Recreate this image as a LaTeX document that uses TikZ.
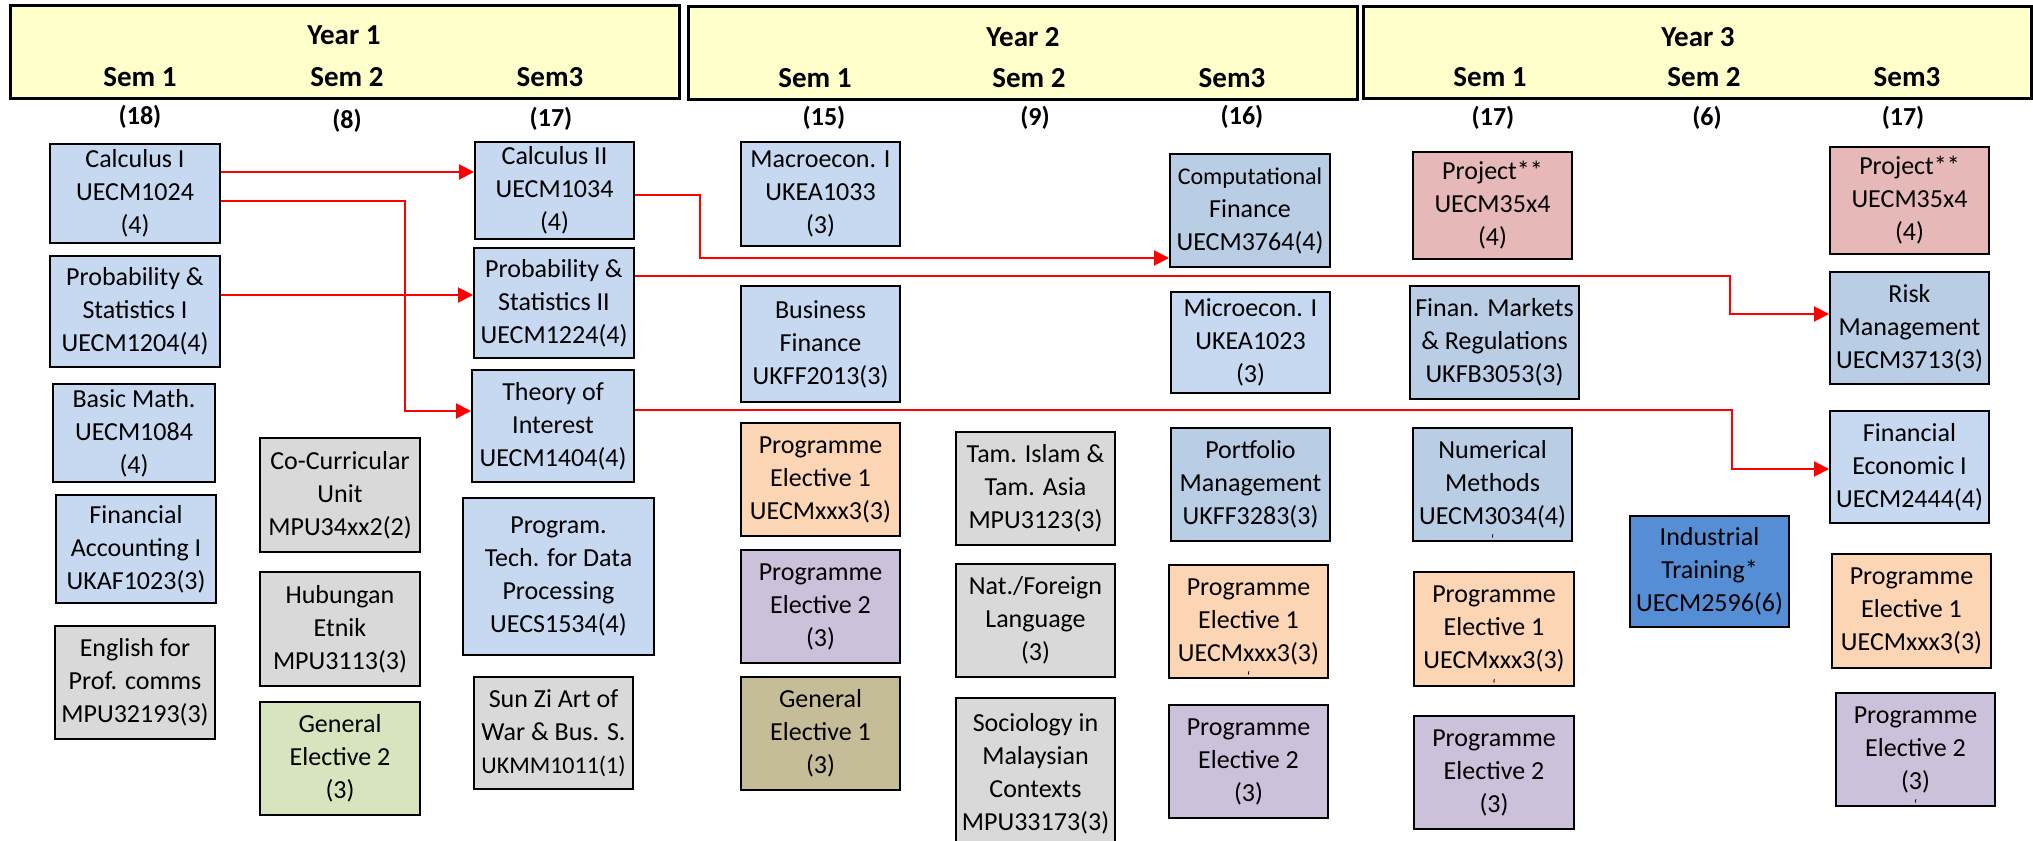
\documentclass[tikz,border=0pt]{standalone}
\usepackage{fontspec}
\setmainfont{Carlito}
\usetikzlibrary{arrows.meta}
\definecolor{hdr}{HTML}{FFFFCC}
\definecolor{bluea}{HTML}{C6D9F1}
\definecolor{blueb}{HTML}{B9CDE5}
\definecolor{bluec}{HTML}{558ED5}
\definecolor{greyc}{HTML}{D9D9D9}
\definecolor{orangec}{HTML}{FCD5B5}
\definecolor{purplec}{HTML}{CCC1DA}
\definecolor{greenc}{HTML}{D7E4BD}
\definecolor{olivec}{HTML}{C4BD97}
\definecolor{pinkc}{HTML}{E6B9B8}
\newcommand\cbox[7]{%
  \node[course,#6,minimum width={#4-#2},minimum height={#5-#3}] (#1) at ({(#2+#4)/2},{(#3+#5)/2}) {#7};}
\tikzset{
  course/.style={draw=black,line width=2pt,inner sep=0pt,align=center,font=\fontsize{26}{33}\selectfont},
  hdrbox/.style={draw=black,line width=3pt,fill=hdr,inner sep=0pt},
  hdrtxt/.style={font=\bfseries\fontsize{29}{33}\selectfont,inner sep=0pt},
  credit/.style={font=\bfseries\fontsize{26}{30}\selectfont,inner sep=0pt},
  arr/.style={draw=red,line width=2pt,-{Triangle[length=15pt,width=15pt]}},
  stray/.style={label={[anchor=south,inner sep=0pt,yshift=-3pt,font=\fontsize{14}{14}\selectfont]south:`}},
  sa/.style={fill=bluea}, sb/.style={fill=blueb}, sc/.style={fill=bluec},
  sg/.style={fill=greyc}, so/.style={fill=orangec}, sp/.style={fill=purplec},
  sgr/.style={fill=greenc}, sol/.style={fill=olivec}, spk/.style={fill=pinkc}
}
\begin{document}
\begin{tikzpicture}[x=1pt,y=-1pt]
\useasboundingbox (0,0) rectangle (2033,840);
\clip (0,0) rectangle (2033,840);
% headers
\node[hdrbox,minimum width=669,minimum height=93] (year1) at (344.5,52.5) {};
\node[hdrbox,minimum width=669,minimum height=93] (year2) at (1022.5,53.5) {};
\node[hdrbox,minimum width=668,minimum height=92] (year3) at (1697,53) {};
\node[hdrtxt] (y1t) at (344,35) {Year 1};
\node[hdrtxt] (y1s1) at (140,77) {Sem 1};
\node[hdrtxt] (y1s2) at (347,77) {Sem 2};
\node[hdrtxt] (y1s3) at (550,77) {Sem3};
\node[hdrtxt] (y2t) at (1023,37) {Year 2};
\node[hdrtxt] (y2s1) at (815,78) {Sem 1};
\node[hdrtxt] (y2s2) at (1029,78) {Sem 2};
\node[hdrtxt] (y2s3) at (1232,78) {Sem3};
\node[hdrtxt] (y3t) at (1698,37) {Year 3};
\node[hdrtxt] (y3s1) at (1490,77) {Sem 1};
\node[hdrtxt] (y3s2) at (1704,77) {Sem 2};
\node[hdrtxt] (y3s3) at (1907,77) {Sem3};
% credits
\node[credit] (c11) at (140,117) {(18)};
\node[credit] (c12) at (347,121) {(8)};
\node[credit] (c13) at (551,119) {(17)};
\node[credit] (c21) at (824,118) {(15)};
\node[credit] (c22) at (1035,118) {(9)};
\node[credit] (c23) at (1242,117) {(16)};
\node[credit] (c31) at (1493,118) {(17)};
\node[credit] (c32) at (1707,118) {(6)};
\node[credit] (c33) at (1903,118) {(17)};
% Year 1
\cbox{calcI}{50}{144}{220}{243}{sa}{Calculus I\\UECM1024\\(4)}
\cbox{probI}{50}{256}{220}{367}{sa}{Probability \&\\Statistics I\\UECM1204(4)}
\cbox{basic}{53}{384}{215}{482}{sa}{Basic Math.\\UECM1084\\(4)}
\cbox{finacc}{56}{495}{216}{603}{sa}{Financial\\Accounting I\\UKAF1023(3)}
\cbox{english}{55}{626}{215}{739}{sg}{English for\\Prof. comms\\MPU32193(3)}
\cbox{cocurr}{260}{438}{420}{552}{sg}{Co-Curricular\\Unit\\MPU34xx2(2)}
\cbox{hubungan}{260}{572}{420}{686}{sg}{Hubungan\\Etnik\\MPU3113(3)}
\cbox{genb}{260}{702}{420}{815}{sgr}{General\\Elective 2\\(3)}
\cbox{calcII}{475}{142}{634}{239}{sa}{Calculus II\\UECM1034\\(4)}
\cbox{probII}{474}{248}{634}{358}{sa}{Probability \&\\Statistics II\\UECM1224(4)}
\cbox{theory}{472}{370}{634}{482}{sa}{Theory of\\Interest\\UECM1404(4)}
\cbox{progtech}{463}{498}{654}{655}{sa}{Program.\\Tech. for Data\\Processing\\UECS1534(4)}
\cbox{sunzi}{474}{677}{633}{789}{sg}{Sun Zi Art of\\War \& Bus. S.\\{\fontsize{24}{31}\selectfont UKMM1011(1)}}
% Year 2
\cbox{macro}{741}{142}{900}{246}{sa}{Macroecon. I\\UKEA1033\\(3)}
\cbox{busfin}{741}{286}{900}{402}{sa}{Business\\Finance\\UKFF2013(3)}
\cbox{pea}{741}{423}{900}{536}{so}{Programme\\Elective 1\\UECMxxx3(3)}
\cbox{peb}{741}{550}{900}{663}{sp}{Programme\\Elective 2\\(3)}
\cbox{gena}{741}{677}{900}{790}{sol}{General\\Elective 1\\(3)}
\cbox{tam}{956}{432}{1115}{545}{sg}{Tam. Islam \&\\Tam. Asia\\MPU3123(3)}
\cbox{natf}{956}{564}{1115}{677}{sg}{Nat./Foreign\\Language\\(3)}
\cbox{socio}{956}{698}{1115}{850}{sg}{Sociology in\\Malaysian\\Contexts\\MPU33173(3)}
\cbox{compfin}{1170}{154}{1330}{267}{sb}{{\fontsize{24}{31}\selectfont Computational}\\Finance\\UECM3764(4)}
\cbox{microecon}{1171}{292}{1330}{393}{sa}{Microecon. I\\UKEA1023\\(3)}
\cbox{portfolio}{1171}{428}{1330}{541}{sb}{Portfolio\\Management\\UKFF3283(3)}
\cbox{pec}{1169}{565}{1328}{678}{so,stray}{Programme\\Elective 1\\UECMxxx3(3)}
\cbox{ped}{1169}{705}{1328}{818}{sp}{Programme\\Elective 2\\(3)}
% Year 3
\cbox{projA}{1413}{152}{1572}{259}{spk}{Project**\\UECM35x4\\(4)}
\cbox{finmkt}{1410}{286}{1579}{399}{sb}{Finan. Markets\\\& Regulations\\UKFB3053(3)}
\cbox{nummeth}{1413}{428}{1572}{541}{sb,stray}{Numerical\\Methods\\UECM3034(4)}
\cbox{pee}{1414}{572}{1574}{686}{so,stray}{Programme\\Elective 1\\UECMxxx3(3)}
\cbox{pef}{1414}{716}{1574}{829}{sp}{Programme\\Elective 2\\(3)}
\cbox{indtrain}{1630}{516}{1789}{627}{sc}{Industrial\\Training*\\UECM2596(6)}
\cbox{projB}{1830}{147}{1989}{254}{spk}{Project**\\UECM35x4\\(4)}
\cbox{risk}{1830}{272}{1989}{384}{sb}{Risk\\Management\\UECM3713(3)}
\cbox{finecon}{1830}{411}{1989}{523}{sa}{Financial\\Economic I\\UECM2444(4)}
\cbox{peg}{1832}{554}{1991}{668}{so}{Programme\\Elective 1\\UECMxxx3(3)}
\cbox{peh}{1836}{693}{1995}{806}{sp,stray}{Programme\\Elective 2\\(3)}
% connectors
\draw[arr] (calcI.east |- 0,172) -- (calcII.west |- 0,172);
\draw[arr] (calcI.east |- 0,201) -- (405,201) -- (405,411) -- (theory.west |- 0,411);
\draw[arr] (probI.east |- 0,295) -- (probII.west |- 0,295);
\draw[arr] (calcII.east |- 0,195) -- (700,195) -- (700,258) -- (compfin.west |- 0,258);
\draw[arr] (probII.east |- 0,276) -- (1730,276) -- (1730,314) -- (risk.west |- 0,314);
\draw[arr] (theory.east |- 0,410) -- (1732,410) -- (1732,469) -- (finecon.west |- 0,469);
\end{tikzpicture}
\end{document}
